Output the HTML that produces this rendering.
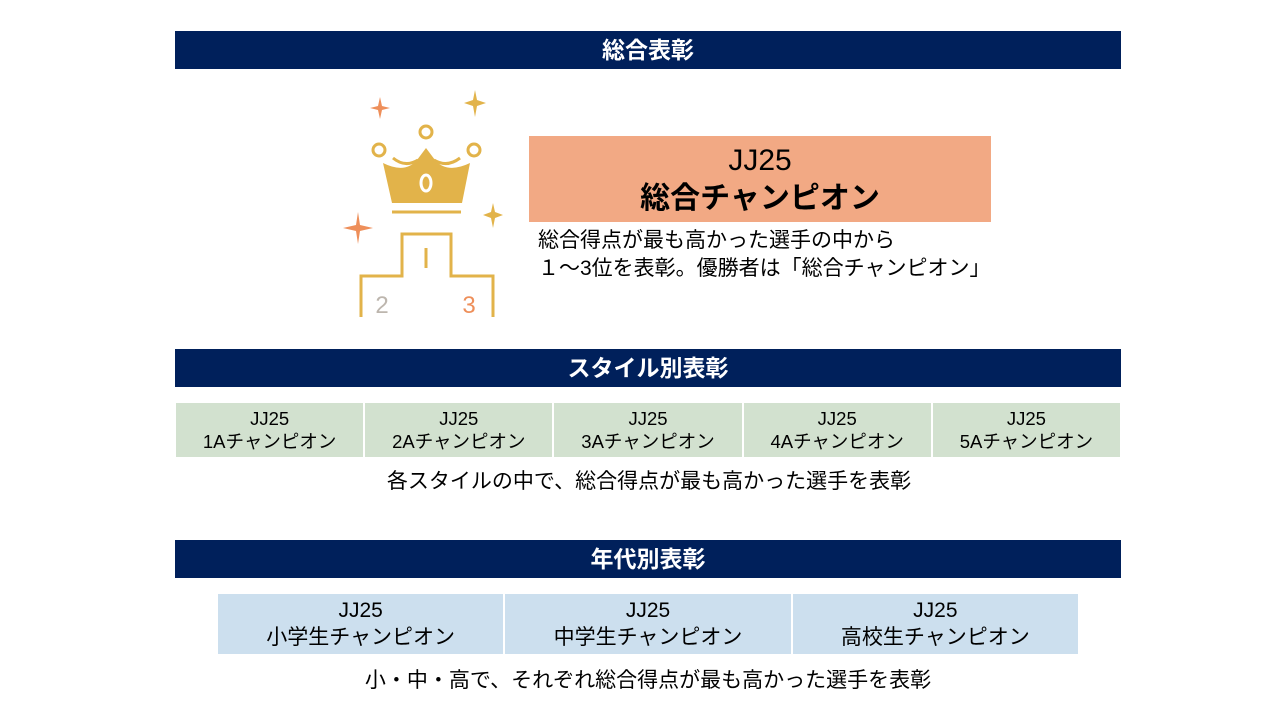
<!DOCTYPE html>
<html><head><meta charset="utf-8"><style>
body{margin:0;width:1280px;height:720px;background:#fff;position:relative;overflow:hidden;font-family:"Liberation Sans","Noto Sans CJK JP",sans-serif;color:#000}
.h{position:absolute;left:175px;width:946px;height:38px;background:#00205B;color:#fff;font-weight:bold;font-size:23px;line-height:38px;text-align:center}
.row{position:absolute;display:flex}
.row div{background:#D2E1CF;border-right:2px solid #fff;text-align:center;display:flex;flex-direction:column;justify-content:center}
.row div:last-child{border-right:none}
.b div{background:#CCDFEE}
.t{position:absolute;white-space:nowrap}
</style></head><body>
<div class="h" style="top:31px">総合表彰</div>
<div class="h" style="top:349px">スタイル別表彰</div>
<div class="h" style="top:540px">年代別表彰</div>

<svg style="position:absolute;left:0;top:0" width="1280" height="720">
<g fill="#EE8F5A">
<path d="M380,97 L382,106 L390,108 L382,110 L380,119 L378,110 L370,108 L378,106Z"/>
<path d="M358,212 L360,225 L373,228 L360,231 L358,244 L356,231 L343,228 L356,225Z"/>
</g>
<g fill="#E2B34A">
<path d="M475,90 L477,100 L486,103 L477,106 L475,117 L473,106 L464,103 L473,100Z"/>
<path d="M493,203 L495,212 L503,215 L495,218 L493,228 L491,218 L483,215 L491,212Z"/>
</g>
<g stroke="#E2B34A" stroke-width="3" fill="none">
<circle cx="379" cy="150" r="6"/><circle cx="426" cy="132" r="6"/><circle cx="474" cy="150" r="6"/>
<path d="M393,158 Q405,168 418,160 M434,160 Q447,168 460,158"/>
<path d="M392,212 H461"/>
<path d="M361,317 V276 H402 V234 H451 V276 H493 V317"/>
<path d="M426,248 V268"/>
</g>
<path fill="#E2B34A" d="M383,163 Q405,174 417,160 L426,148 L435,160 Q447,174 470,163 L462,203 L392,203Z"/>
<ellipse cx="426" cy="183" rx="5" ry="8" fill="none" stroke="#fff" stroke-width="3"/>
<text x="382" y="313" font-size="24" fill="#BDB6AE" text-anchor="middle" font-family="Liberation Sans">2</text>
<text x="469" y="313" font-size="24" fill="#EE8F5A" text-anchor="middle" font-family="Liberation Sans">3</text>
</svg>

<div style="position:absolute;left:529px;top:136px;width:462px;height:86px;background:#F2A984;text-align:center;font-size:30px;line-height:38px;padding-top:6px;box-sizing:border-box;font-weight:bold"><span style="font-weight:normal">JJ25</span><br>総合チャンピオン</div>
<div class="t" style="left:538px;top:227px;font-size:21px;line-height:28px">総合得点が最も高かった選手の中から<br>１～3位を表彰。優勝者は「総合チャンピオン」</div>

<div class="row" style="left:176px;top:403px;width:944px;height:54px;font-size:18.5px;line-height:23px">
<div style="flex:1">JJ25<br>1Aチャンピオン</div><div style="flex:1">JJ25<br>2Aチャンピオン</div><div style="flex:1">JJ25<br>3Aチャンピオン</div><div style="flex:1">JJ25<br>4Aチャンピオン</div><div style="flex:1">JJ25<br>5Aチャンピオン</div>
</div>
<div class="t" style="left:0;width:1298px;text-align:center;top:465px;font-size:21px">各スタイルの中で、総合得点が最も高かった選手を表彰</div>

<div class="row b" style="left:218px;top:594px;width:860px;height:60px;font-size:21px;line-height:27px">
<div style="flex:1">JJ25<br>小学生チャンピオン</div><div style="flex:1">JJ25<br>中学生チャンピオン</div><div style="flex:1">JJ25<br>高校生チャンピオン</div>
</div>
<div class="t" style="left:0;width:1296px;text-align:center;top:664px;font-size:21px">小・中・高で、それぞれ総合得点が最も高かった選手を表彰</div>
</body></html>
